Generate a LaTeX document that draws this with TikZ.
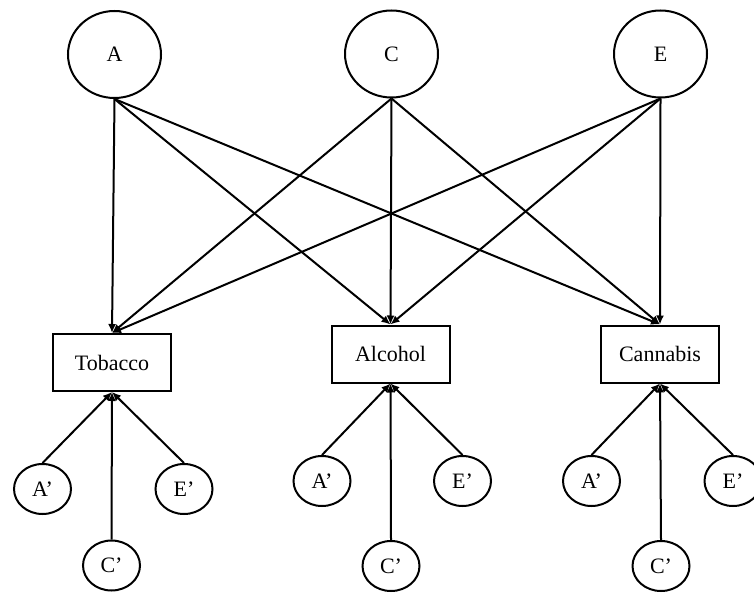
\documentclass[tikz,border=0pt]{standalone}
\usepackage{fontspec}
\setmainfont{Liberation Serif}
\usetikzlibrary{shapes.geometric,arrows.meta}
\begin{document}
\begin{tikzpicture}[x=1pt,y=-1pt,
  every node/.style={font=\fontsize{22}{26}\selectfont, line width=2pt},
  bigcirc/.style={draw, ellipse, inner sep=0pt, minimum width=93pt, minimum height=87pt},
  smallcirc/.style={draw, ellipse, inner sep=0pt, minimum width=57pt, minimum height=50pt},
  varbox/.style={draw, rectangle, inner sep=0pt, minimum width=118pt, minimum height=57pt},
  conn/.style={line width=2pt, -{Latex[length=9pt,width=8pt]}}]
\useasboundingbox (0,0) rectangle (754,593);
\node[bigcirc] (A) at (114.5,54.5) {A};
\node[bigcirc] (C) at (391.5,54) {C};
\node[bigcirc] (E) at (660.5,54) {E};
\node[varbox] (T) at (112,362.5) {Tobacco};
\node[varbox] (L) at (390.5,354) {Alcohol};
\node[varbox] (N) at (660,354) {Cannabis};
\node[smallcirc] (TA) at (42.5,489) {A’};
\node[smallcirc] (TE) at (184,489) {E’};
\node[smallcirc] (TC) at (111.5,565.5) {C’};
\node[smallcirc] (LA) at (322,481) {A’};
\node[smallcirc] (LE) at (462.5,481) {E’};
\node[smallcirc] (LC) at (391,566) {C’};
\node[smallcirc] (NA) at (591.5,481) {A’};
\node[smallcirc] (NE) at (733,481) {E’};
\node[smallcirc] (NC) at (661,566) {C’};
\foreach \s in {A,C,E}{
  \foreach \t in {T,L,N}{
    \draw[conn] (\s.south) -- (\t.north);
  }
}
\foreach \b in {T,L,N}{
  \foreach \c in {A,E,C}{
    \draw[conn] (\b\c.north) -- (\b.south);
  }
}
\end{tikzpicture}
\end{document}
